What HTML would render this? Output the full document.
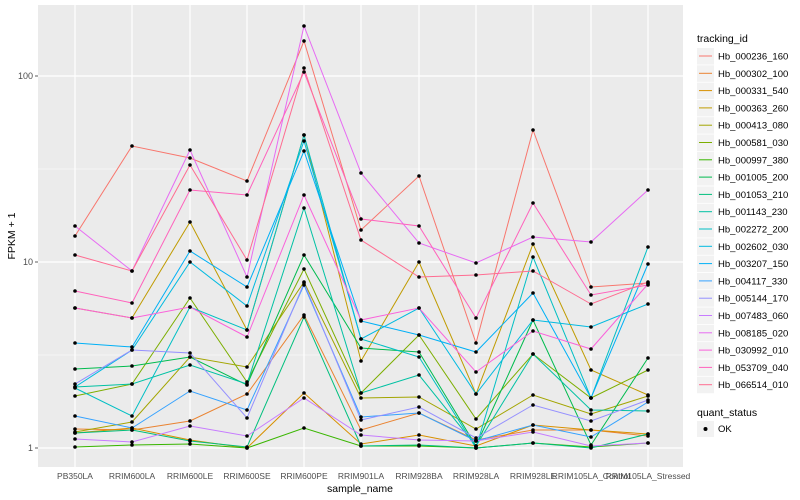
<!DOCTYPE html>
<html><head><meta charset="utf-8"><style>body{margin:0;background:#fff}svg{display:block;font-family:"Liberation Sans",sans-serif}</style></head><body>
<svg width="800" height="500" viewBox="0 0 800 500" id="s">
<rect x="38" y="5" width="645" height="462" fill="#EBEBEB"/>
<g stroke="#fff" stroke-width="0.6"><line x1="38" x2="683" y1="355" y2="355"/><line x1="38" x2="683" y1="169" y2="169"/></g>
<g stroke="#fff" stroke-width="1.2">
<line x1="38" x2="683" y1="448" y2="448"/><line x1="38" x2="683" y1="262" y2="262"/><line x1="38" x2="683" y1="76" y2="76"/>
<line x1="75" x2="75" y1="5" y2="467"/><line x1="132" x2="132" y1="5" y2="467"/><line x1="190" x2="190" y1="5" y2="467"/><line x1="247" x2="247" y1="5" y2="467"/><line x1="304" x2="304" y1="5" y2="467"/><line x1="361" x2="361" y1="5" y2="467"/><line x1="419" x2="419" y1="5" y2="467"/><line x1="476" x2="476" y1="5" y2="467"/><line x1="533" x2="533" y1="5" y2="467"/><line x1="591" x2="591" y1="5" y2="467"/><line x1="648" x2="648" y1="5" y2="467"/>
</g>
<g id="lines" fill="none" stroke-width="1"></g>
<g id="pts" fill="#000"></g>
<g font-size="9" fill="#4d4d4d" text-anchor="end"><text x="33" y="451">1</text><text x="33" y="265">10</text><text x="33" y="79">100</text></g>
<g stroke="#333" stroke-width="0.8"><line x1="35" x2="38" y1="448" y2="448"/><line x1="35" x2="38" y1="262" y2="262"/><line x1="35" x2="38" y1="76" y2="76"/></g>
<g font-size="8.5" fill="#4d4d4d" text-anchor="middle">
<text x="75" y="479">PB350LA</text><text x="132" y="479">RRIM600LA</text><text x="190" y="479">RRIM600LE</text><text x="247" y="479">RRIM600SE</text><text x="304" y="479">RRIM600PE</text><text x="361" y="479">RRIM901LA</text><text x="419" y="479">RRIM928BA</text><text x="476" y="479">RRIM928LA</text><text x="533" y="479">RRIM928LE</text><text x="591" y="479">RRIM105LA_Control</text><text x="648" y="479">RRIM105LA_Stressed</text>
</g>
<text x="360" y="492" font-size="10.5" text-anchor="middle" fill="#000">sample_name</text>
<text transform="translate(15,236) rotate(-90)" font-size="10.5" text-anchor="middle" fill="#000">FPKM + 1</text>
<text x="697" y="42" font-size="10.5" fill="#000">tracking_id</text>
<g id="leg" font-size="9.5" fill="#000"></g>
<text x="697" y="416" font-size="10.5" fill="#000">quant_status</text>
<rect x="697" y="421" width="17" height="16" fill="#f2f2f2"/><circle cx="705.5" cy="429" r="2" fill="#000"/>
<text x="718" y="432" font-size="9.5" fill="#000">OK</text>
</svg>
<script>
var X=[75,132,190,247,304,361,419,476,533,591,648];
var C=["#F8766D","#EA8331","#D89000","#C09B00","#A3A500","#7CAE00","#39B600","#00BB4E","#00BF7D","#00C1A3","#00BFC4","#00BAE0","#00B0F6","#35A2FF","#9590FF","#C77CFF","#E76BF3","#FA62DB","#FF62BC","#FF6C91"];
var N=["Hb_000236_160","Hb_000302_100","Hb_000331_540","Hb_000363_260","Hb_000413_080","Hb_000581_030","Hb_000997_380","Hb_001005_200","Hb_001053_210","Hb_001143_230","Hb_002272_200","Hb_002602_030","Hb_003207_150","Hb_004117_330","Hb_005144_170","Hb_007483_060","Hb_008185_020","Hb_030992_010","Hb_053709_040","Hb_066514_010"];
var D=[
[236,146,158,181,41,230,176,343,130,287,283],
[429,430,421,394,315,430,413,440,430,430,436],
[433,428,440,448,393,444,435,446,425,430,434],
[308,318,222,330,135,361,262,394,244,370,395],
[432,422,357,367,282,398,397,429,395,414,396],
[396,384,298,382,269,393,335,419,354,398,370],
[447,445,444,448,428,446,446,448,443,447,443],
[369,366,357,385,255,348,352,446,320,445,358],
[433,430,441,447,317,446,445,448,443,448,434],
[387,384,365,384,208,393,375,446,354,410,411],
[388,416,307,330,135,339,357,448,257,398,247],
[387,350,262,306,141,339,308,394,320,327,304],
[343,347,251,287,151,321,335,352,293,398,264],
[416,428,391,410,285,417,413,441,425,437,402],
[384,350,353,418,283,420,407,438,405,421,400],
[439,442,426,436,398,435,440,441,432,446,443],
[226,271,150,277,26,173,243,263,237,242,190],
[308,318,307,337,195,320,308,372,331,349,284],
[291,303,190,195,72,219,226,318,203,295,285],
[255,271,165,260,68,240,277,275,271,304,282]];
var ns="http://www.w3.org/2000/svg",L=document.getElementById("lines"),P=document.getElementById("pts"),G=document.getElementById("leg");
D.forEach(function(d,i){var p=document.createElementNS(ns,"polyline");p.setAttribute("points",d.map(function(y,j){return X[j]+","+y}).join(" "));p.setAttribute("stroke",C[i]);L.appendChild(p);
d.forEach(function(y,j){var c=document.createElementNS(ns,"circle");c.setAttribute("cx",X[j]);c.setAttribute("cy",y);c.setAttribute("r",1.8);P.appendChild(c);});
var yy=56+i*17.3;var r=document.createElementNS(ns,"rect");r.setAttribute("x",697);r.setAttribute("y",yy-8);r.setAttribute("width",17);r.setAttribute("height",16.5);r.setAttribute("fill","#f2f2f2");G.appendChild(r);
var l=document.createElementNS(ns,"line");l.setAttribute("x1",699);l.setAttribute("x2",712);l.setAttribute("y1",yy);l.setAttribute("y2",yy);l.setAttribute("stroke",C[i]);G.appendChild(l);
var t=document.createElementNS(ns,"text");t.setAttribute("x",718);t.setAttribute("y",yy+3.5);t.textContent=N[i];G.appendChild(t);});
</script>
</body></html>
